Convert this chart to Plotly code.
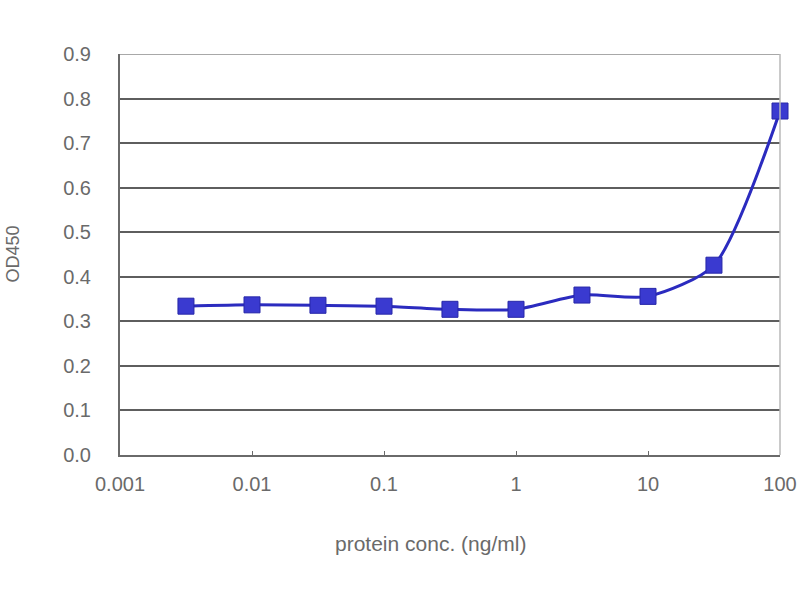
import plotly.graph_objects as go

conc = [0.00316, 0.01, 0.0316, 0.1, 0.316, 1, 3.16, 10, 31.6, 100]
od450 = [0.334, 0.337, 0.336, 0.334, 0.327, 0.327, 0.359, 0.356, 0.426, 0.772]
x_ticks = [0.001, 0.01, 0.1, 1, 10, 100]
x_tick_labels = ["0.001", "0.01", "0.1", "1", "10", "100"]
y_ticks = [0, 0.1, 0.2, 0.3, 0.4, 0.5, 0.6, 0.7, 0.8, 0.9]

fig = go.Figure()
fig.add_trace(go.Scatter(
    x=conc, y=od450, mode="lines+markers", cliponaxis=False,
    line=dict(color="#2b2bbf", width=3, shape="spline", smoothing=0.7),
    marker=dict(symbol="square", size=16, color="#3a3ad0",
                line=dict(color="#2626a8", width=1)),
    showlegend=False,
))

font_fam = "Liberation Sans, Arial, sans-serif"
txt_col = "#6a6a6a"
fig.update_layout(
    width=800, height=600,
    margin=dict(l=120, r=20, t=54, b=145),
    paper_bgcolor="white", plot_bgcolor="white",
    font=dict(family=font_fam, color=txt_col, size=20),
)
fig.update_xaxes(
    type="log", range=[-3, 2], automargin=False,
    tickvals=x_ticks, ticktext=x_tick_labels,
    showgrid=False, zeroline=False,
    showline=True, linecolor="#6a6a6a", linewidth=2,
    ticks="inside", ticklen=4, tickcolor="#6a6a6a",
    ticklabelstandoff=10, ticklabeloverflow="allow",
)
fig.update_yaxes(
    range=[0, 0.9], automargin=False,
    tickvals=y_ticks, tickformat=".1f",
    showgrid=True, gridcolor="#5e5e5e", gridwidth=2,
    zeroline=False,
    showline=True, linecolor="#6a6a6a", linewidth=2,
    ticks="", ticklabelstandoff=23,
)
# lighter top gridline and right frame
fig.add_shape(type="line", xref="paper", yref="y", x0=0, x1=1, y0=0.9, y1=0.9,
              line=dict(color="#a8a8a8", width=2))
fig.add_shape(type="line", xref="paper", yref="paper", x0=1, x1=1, y0=0, y1=1,
              line=dict(color="#b8b8b8", width=1.5))

# axis titles
fig.add_annotation(text="protein conc. (ng/ml)", xref="paper", yref="paper",
                   x=(430 - 120) / 660, y=0, yshift=-88, showarrow=False,
                   xanchor="center", yanchor="middle",
                   font=dict(size=21, color=txt_col))
fig.add_annotation(text="OD450", xref="paper", yref="paper",
                   x=0, xshift=-108, y=0.5, showarrow=False, textangle=-90,
                   xanchor="center", yanchor="middle",
                   font=dict(size=18, color=txt_col))

fig.write_html(
    "out.html",
    config={"displayModeBar": False},
    post_script="document.body.style.margin='0';document.body.style.overflow='hidden';",
)
